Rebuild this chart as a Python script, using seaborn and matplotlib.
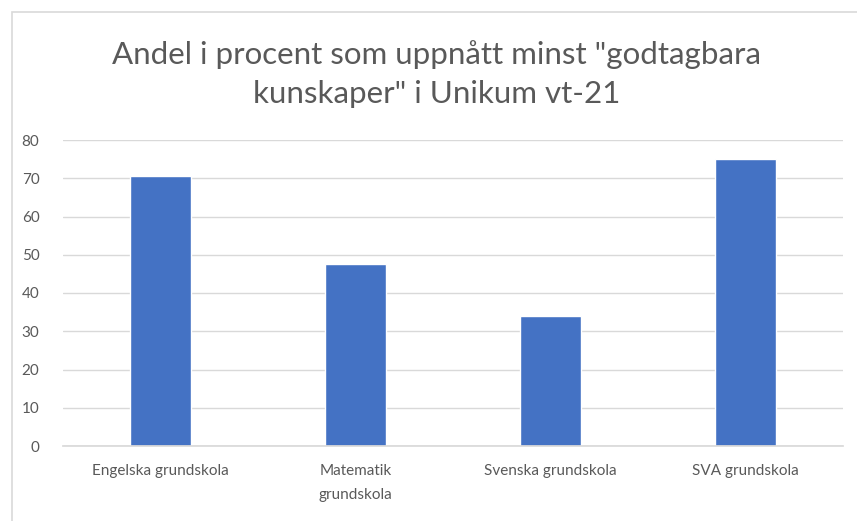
import matplotlib
matplotlib.use("Agg")
import matplotlib.pyplot as plt
import seaborn as sns
import pandas as pd
from matplotlib.patches import Rectangle

categories = ["Engelska grundskola", "Matematik\ngrundskola", "Svenska grundskola", "SVA grundskola"]
values = [70.7, 47.7, 34.0, 75.0]
yticks = [0, 10, 20, 30, 40, 50, 60, 70, 80]
title = 'Andel i procent som uppnått minst "godtagbara\nkunskaper" i Unikum vt-21'

sns.set_theme(style="white")
plt.rcParams['font.family'] = ['Lato', 'DejaVu Sans']

df = pd.DataFrame({"cat": categories, "val": values})

fig = plt.figure(figsize=(8.57, 5.21), dpi=100)
fig.patches.append(Rectangle((12/857, -0.1), 1.2, (521-12)/521 + 0.1, transform=fig.transFigure,
                             fill=False, edgecolor="#D9D9D9", linewidth=1.2))
ax = fig.add_axes([63/857, 1-446/521, (843-63)/857, (446-140)/521])
sns.barplot(data=df, x="cat", y="val", color="#4472C4", width=0.31, ax=ax, saturation=1)
ax.set_ylim(0, 80)
ax.set_yticks(yticks)
ax.set_xlim(-0.5, 3.5)
ax.yaxis.grid(True, color="#D9D9D9", linewidth=1)
ax.set_axisbelow(True)
for s in ["left", "right", "top"]:
    ax.spines[s].set_visible(False)
ax.spines["bottom"].set_color("#D9D9D9")
ax.set_xlabel("")
ax.set_ylabel("")
ax.tick_params(axis="both", length=0, labelsize=11, labelcolor="#595959")
ax.tick_params(axis="y", pad=17)
ax.tick_params(axis="x", pad=13)
for lbl in ax.get_xticklabels():
    lbl.set_linespacing(1.9)
fig.text(0.5 + 8/857, 0.858, title, ha="center", va="center", fontsize=22.5, color="#595959",
         linespacing=1.45)
fig.savefig("out.png", dpi=100, facecolor="white")
